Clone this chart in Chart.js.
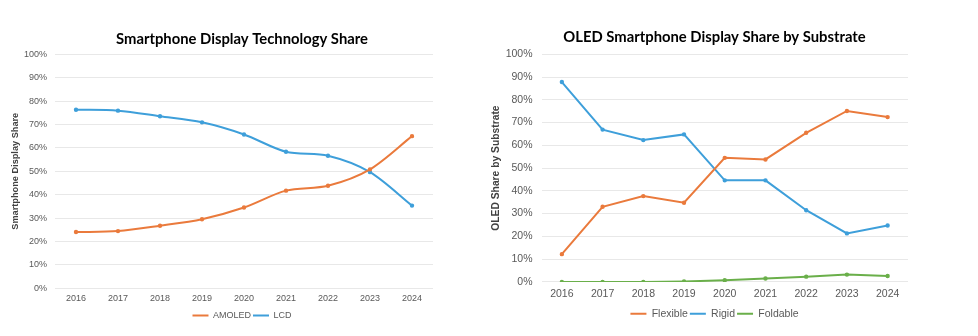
<!DOCTYPE html>
<html>
<head>
<meta charset="utf-8">
<script src="https://cdn.jsdelivr.net/npm/chart.js@4.4.1/dist/chart.umd.min.js"></script>
<style>
  html, body { margin: 0; padding: 0; background: #fff; }
  .box { position: absolute; top: 0; height: 336px; }
  #leftBox { left: 0; width: 490px; }
  #rightBox { left: 490px; width: 488px; }
</style>
</head>
<body>
<div class="box" id="leftBox"><canvas id="techChart"></canvas></div>
<div class="box" id="rightBox"><canvas id="oledChart"></canvas></div>
<script>
// years shared by both charts
const years = ["2016", "2017", "2018", "2019", "2020", "2021", "2022", "2023", "2024"];

// left chart: display technology share (%)
const amoled = [24.0, 24.4, 26.7, 29.5, 34.5, 41.7, 43.8, 50.8, 65.0];
const lcd = [76.3, 75.9, 73.5, 70.9, 65.7, 58.3, 56.6, 49.6, 35.3];

// right chart: OLED share by substrate (%)
const flexible = [12.2, 33.0, 37.7, 34.8, 54.5, 53.8, 65.5, 75.1, 72.4];
const rigid = [87.8, 66.9, 62.3, 64.8, 44.6, 44.6, 31.5, 21.3, 24.8];
const foldable = [0.0, 0.0, 0.0, 0.2, 0.7, 1.5, 2.3, 3.2, 2.6];

const ORANGE = "#ea7a3c";
const BLUE = "#3e9fda";
const GREEN = "#6aaf4a";
const GRID = "#e8e8e8";
const TICK = "#595959";

function line(label, data, color, tension) {
  return {
    label: label,
    data: data,
    borderColor: color,
    backgroundColor: color,
    borderWidth: 2,
    pointRadius: 1.2,
    pointHoverRadius: 1.2,
    tension: tension,
  };
}

function makeChart(id, cfg) {
  return new Chart(document.getElementById(id), {
    type: "line",
    data: { labels: years, datasets: cfg.datasets },
    options: {
      responsive: true,
      maintainAspectRatio: false,
      animation: false,
      layout: { padding: { left: 0, right: cfg.padRight, top: 0, bottom: cfg.padBottom } },
      plugins: {
        title: {
          display: true,
          text: cfg.title,
          color: "#000",
          font: { family: "Lato", size: 14.8, weight: "bold" },
          padding: { top: cfg.titleTop, bottom: cfg.titleBottom },
        },
        legend: {
          position: "bottom",
          labels: {
            color: TICK,
            font: { family: "Liberation Sans", size: cfg.fs },
            usePointStyle: true,
            pointStyle: "line",
            pointStyleWidth: 16,
            padding: cfg.legendPad,
          },
        },
        tooltip: { enabled: false },
      },
      scales: {
        x: {
          offset: true,
          grid: { display: false, drawTicks: false },
          border: { display: false },
          ticks: { color: TICK, font: { family: "Liberation Sans", size: cfg.fs }, padding: cfg.xPad },
        },
        y: {
          min: 0,
          max: 100,
          grid: { color: GRID, drawTicks: false },
          border: { display: false },
          afterFit: (s) => { s.width = cfg.yWidth; },
          ticks: {
            stepSize: 10,
            color: TICK,
            padding: cfg.yPad,
            font: { family: "Liberation Sans", size: cfg.fs },
            callback: (v) => v + "%",
          },
          title: {
            display: true,
            text: cfg.yTitle,
            color: "#404040",
            font: { family: "Liberation Sans", size: cfg.yTitleSize, weight: "bold" },
            padding: { top: cfg.yTitleTop, bottom: 0 },
          },
        },
        // empty spacer on the right so the plot ends where the reference does
        spacer: {
          position: "right",
          min: 0,
          max: 100,
          grid: { display: false, drawTicks: false },
          border: { display: false },
          ticks: { display: false },
          afterFit: (s) => { s.width = cfg.spacer; },
        },
      },
    },
  });
}

makeChart("techChart", {
  title: "Smartphone Display Technology Share",
  datasets: [line("AMOLED", amoled, ORANGE, 0.3), line("LCD", lcd, BLUE, 0.3)],
  padRight: 6,
  spacer: 51,
  padBottom: 6,
  legendPad: 2,
  titleTop: 30,
  titleBottom: 6.5,
  fs: 9,
  xPad: 5,
  yPad: 8,
  yWidth: 55,
  yTitle: "Smartphone Display Share",
  yTitleSize: 9.2,
  yTitleTop: 10,
});

makeChart("oledChart", {
  title: "OLED Smartphone Display Share by Substrate",
  datasets: [
    line("Flexible", flexible, ORANGE, 0),
    line("Rigid", rigid, BLUE, 0),
    line("Foldable", foldable, GREEN, 0),
  ],
  padRight: 39,
  spacer: 31,
  padBottom: 7,
  legendPad: 2,
  titleTop: 28,
  titleBottom: 8.5,
  fs: 10.5,
  xPad: 6,
  yPad: 9,
  yWidth: 51.5,
  yTitle: "OLED Share by Substrate",
  yTitleSize: 10.3,
  yTitleTop: 0,
});
</script>
</body>
</html>
